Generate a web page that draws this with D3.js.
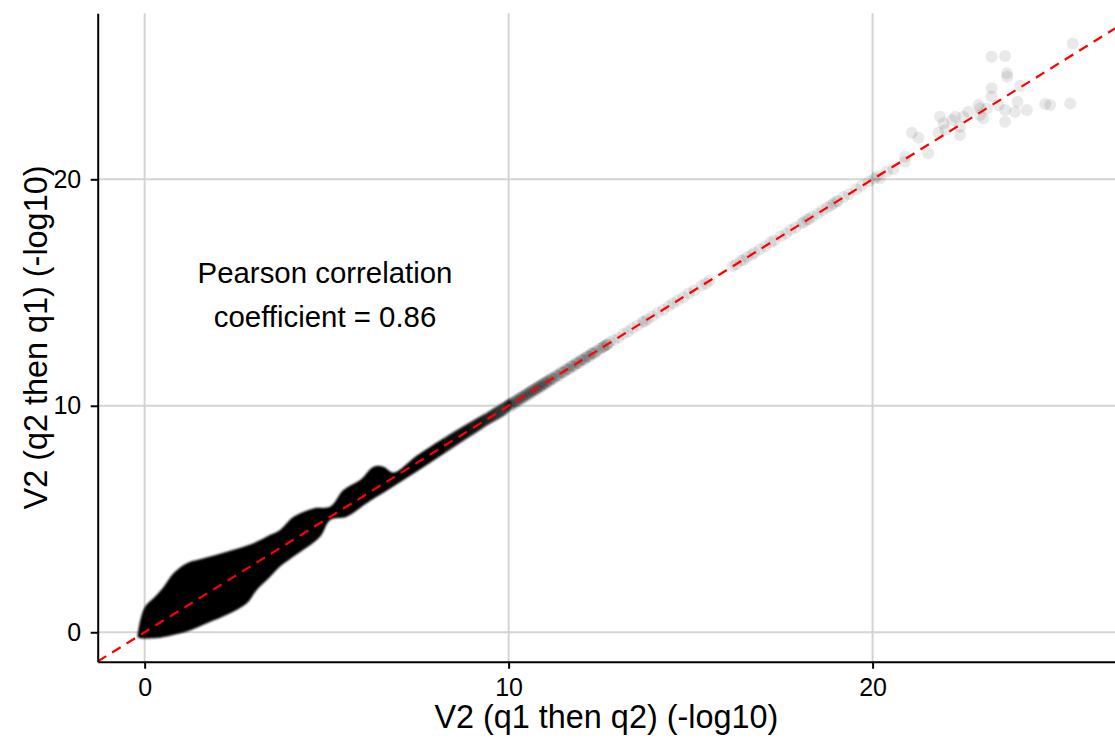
<!DOCTYPE html>
<html>
<head>
<meta charset="utf-8">
<script src="https://cdn.jsdelivr.net/npm/d3@7"></script>
<style>
  html, body { margin: 0; padding: 0; background: #fff; }
  svg { display: block; font-family: "Liberation Sans", Arial, Helvetica, sans-serif; }
</style>
</head>
<body>
<svg id="chart" width="1115" height="745"></svg>
<script>
// ---- data ----
const xTicks = [0, 10, 20];
const yTicks = [0, 10, 20];
const xTitle = "V2 (q1 then q2) (-log10)";
const yTitle = "V2 (q2 then q1) (-log10)";
const annotation = ["Pearson correlation", "coefficient = 0.86"];
const correlation = 0.86;

// envelope of the saturated dense cloud (x, y) upper and lower edges
const cloudUpper = [[-0.2,-0.2],[-0.12,0.54],[0.01,1.13],[0.24,1.5],[0.52,2.0],[0.79,2.6],[1.16,3.05],[1.62,3.27],
  [2.26,3.56],[2.99,3.93],[3.45,4.3],[3.72,4.52],[4.09,5.1],[4.64,5.47],[5.1,5.55],[5.46,6.28],[5.92,6.72],
  [6.29,7.31],[6.56,7.31],[6.84,7.05],[7.48,7.8],[8.5,8.85],[9.3,9.6],[10.05,10.25]];
const cloudLower = [[-0.2,-0.2],[-0.15,-0.25],[0.34,-0.25],[0.7,-0.15],[1.16,0.03],[1.71,0.4],[2.35,0.84],[2.81,1.28],
  [3.08,1.87],[3.45,2.45],[3.72,2.9],[4.09,3.34],[4.82,4.22],[5.1,4.96],[5.55,5.1],[6.1,5.7],[6.65,6.25],
  [7.48,7.1],[8.5,8.18],[9.3,9.02],[10.05,9.82]];

// individual points along the diagonal
const diagPoints = [
  [10.00,10.02],[10.04,10.03],[10.08,10.10],[10.12,10.11],[10.16,10.18],[10.20,10.19],[10.24,10.25],[10.28,10.27],
  [10.32,10.34],[10.36,10.35],[10.40,10.41],[10.44,10.43],[10.48,10.50],[10.52,10.51],[10.56,10.57],[10.60,10.59],
  [10.64,10.66],[10.68,10.67],[10.72,10.73],[10.76,10.75],[10.80,10.82],[10.84,10.83],[10.88,10.89],[10.92,10.91],
  [10.96,10.98],[11.00,10.99],[11.05,11.06],[11.10,11.09],[11.15,11.17],[11.20,11.19],
  [10.02,10.10],[10.06,9.96],[10.10,10.16],[10.14,10.04],[10.18,10.24],[10.22,10.12],[10.26,10.32],[10.30,10.22],
  [10.34,10.40],[10.38,10.30],[10.42,10.48],[10.46,10.38],[10.50,10.56],[10.54,10.46],[10.58,10.64],[10.62,10.54],
  [10.66,10.72],[10.70,10.62],[10.74,10.80],[10.78,10.70],[10.82,10.88],[10.86,10.78],[10.90,10.96],[10.94,10.86],
  [10.98,11.04],[11.03,10.96],[11.08,11.14],[11.13,11.06],[11.18,11.24],[11.24,11.18],[11.31,11.36],[11.38,11.32],
  [11.45,11.50],[11.52,11.46],[11.59,11.64],[11.66,11.60],[11.73,11.78],[11.80,11.74],[11.87,11.92],[11.94,11.88],
  [12.01,12.06],[12.08,12.02],[12.15,12.20],[12.22,12.16],[12.29,12.34],[12.36,12.30],
  [11.27,11.28],[11.34,11.33],[11.41,11.43],[11.48,11.47],[11.55,11.56],[11.62,11.61],[11.69,11.71],[11.76,11.75],
  [11.83,11.84],[11.90,11.89],[11.97,11.99],[12.04,12.03],[12.11,12.12],[12.18,12.17],[12.25,12.27],[12.32,12.31],
  [12.39,12.40],[12.44,12.43],[12.50,12.52],[12.56,12.55],[12.60,12.58],[12.62,12.63],[12.66,12.67],[12.70,12.69],
  [12.72,12.71],[12.78,12.80],
  [12.90,12.91],[13.02,13.00],[13.15,13.17],[13.28,13.27],[13.40,13.42],[13.55,13.54],[13.68,13.70],[13.74,13.73],
  [13.82,13.83],[13.95,13.94],[14.10,14.12],[14.25,14.24],[14.40,14.41],[14.52,14.53],
  [14.65,14.66],[14.80,14.79],[14.95,14.97],[15.10,15.09],[15.30,15.31],[15.42,15.40],[15.52,15.53],
  [16.15,16.16],[16.25,16.24],[16.38,16.40],[16.45,16.44],[16.55,16.57],[16.68,16.67],[16.75,16.76],[16.90,16.91],
  [17.05,17.04],[17.20,17.22],[17.30,17.29],[17.48,17.49],[17.62,17.61],[17.75,17.77],[17.88,17.87],
  [18.05,18.06],[18.12,18.11],[18.20,18.22],[18.26,18.25],[18.35,18.36],[18.50,18.49],[18.62,18.63],[18.75,18.76],
  [18.85,18.84],[18.92,18.93],[19.00,19.01],[19.05,19.04],
  [19.20,19.22],[19.35,19.34],[19.55,19.56],[19.70,19.71],[19.90,19.91],[20.05,20.04],[20.12,20.13]
];
// scattered points at the top right
const outerPoints = [
  [20.2,20.04],[20.39,20.34],[20.57,20.44],[20.89,21.0],[20.89,20.78],[21.08,22.06],[21.26,21.84],[21.53,21.15],
  [21.85,22.76],[21.81,22.06],[21.95,22.47],[22.0,22.18],[22.18,22.62],[22.27,22.76],[22.4,21.96],[22.4,22.32],
  [22.49,22.76],[22.63,22.98],[22.91,23.28],[22.95,22.84],[23.04,22.69],[22.95,23.13],[23.14,23.13],[23.27,24.02],
  [23.27,25.41],[23.64,25.44],[23.27,23.66],[23.46,23.28],[23.64,23.06],[23.69,24.68],[23.7,24.53],[23.64,22.54],
  [23.91,22.98],[24.05,24.13],[23.98,23.43],[24.24,23.06],[24.74,23.32],[24.88,23.28],[25.43,23.35],[25.5,26.0]
];

// ---- layout ----
const plot = { left: 97.7, right: 1115, top: 13.3, bottom: 661.7 };
const x = d3.scaleLinear().domain([-1.29, 26.66]).range([plot.left, plot.right]);
const y = d3.scaleLinear().domain([-1.30, 27.33]).range([plot.bottom, plot.top]);

const svg = d3.select("#chart");
const defs = svg.append("defs");
defs.append("clipPath").attr("id", "clip").append("rect")
  .attr("x", plot.left).attr("y", plot.top)
  .attr("width", plot.right - plot.left).attr("height", plot.bottom - plot.top);
defs.append("filter").attr("id", "soft").attr("x", "-5%").attr("y", "-5%").attr("width", "110%").attr("height", "110%")
  .append("feGaussianBlur").attr("stdDeviation", 1.3);
const grad = defs.append("linearGradient").attr("id", "fade")
  .attr("gradientUnits", "userSpaceOnUse")
  .attr("x1", x(7.8)).attr("x2", x(10.05)).attr("y1", 0).attr("y2", 0);
grad.append("stop").attr("offset", 0).attr("stop-color", "#000");
grad.append("stop").attr("offset", 0.6).attr("stop-color", "#151515");
grad.append("stop").attr("offset", 1).attr("stop-color", "#444");

// grid
const grid = svg.append("g");
grid.selectAll("line.gx").data(xTicks).join("line")
  .attr("x1", d => x(d)).attr("x2", d => x(d))
  .attr("y1", plot.top).attr("y2", plot.bottom)
  .attr("stroke", "#d4d4d4").attr("stroke-width", 2);
grid.selectAll("line.gy").data(yTicks).join("line")
  .attr("x1", plot.left).attr("x2", plot.right)
  .attr("y1", d => y(d)).attr("y2", d => y(d))
  .attr("stroke", "#d4d4d4").attr("stroke-width", 2);

const g = svg.append("g").attr("clip-path", "url(#clip)");

// dense cloud
const cloudPoly = cloudUpper.concat(cloudLower.slice().reverse());
g.append("path")
  .attr("d", d3.line().x(d => x(d[0])).y(d => y(d[1])).curve(d3.curveCatmullRomClosed.alpha(0.5))(cloudPoly))
  .attr("fill", "url(#fade)")
  .attr("filter", "url(#soft)");

// individual points
g.selectAll("circle.p").data(diagPoints.concat(outerPoints)).join("circle")
  .attr("cx", d => x(d[0])).attr("cy", d => y(d[1])).attr("r", 6)
  .attr("fill", "#000").attr("fill-opacity", 0.085);

// identity line
const lineDomain = x.domain();
g.append("line")
  .attr("x1", x(lineDomain[0])).attr("y1", y(lineDomain[0]))
  .attr("x2", x(lineDomain[1])).attr("y2", y(lineDomain[1]))
  .attr("stroke", "#ff0000").attr("stroke-width", 2.2).attr("stroke-dasharray", "10,7");

// axes
const xAxis = svg.append("g").attr("transform", `translate(0,${plot.bottom})`)
  .call(d3.axisBottom(x).tickValues(xTicks).tickFormat(d3.format("d")).tickSize(7).tickSizeOuter(0).tickPadding(9.5));
const yAxis = svg.append("g").attr("transform", `translate(${plot.left},0)`)
  .call(d3.axisLeft(y).tickValues(yTicks).tickFormat(d3.format("d")).tickSize(7).tickSizeOuter(0).tickPadding(9.5));
[xAxis, yAxis].forEach(a => {
  a.select(".domain").attr("stroke", "#000").attr("stroke-width", 2);
  a.selectAll(".tick line").attr("stroke", "#000").attr("stroke-width", 2);
  a.selectAll(".tick text").attr("fill", "#000").style("font-size", "25px")
    .style("font-family", '"Liberation Sans", Arial, sans-serif');
});

// titles
svg.append("text").attr("x", (plot.left + plot.right) / 2).attr("y", 728)
  .attr("text-anchor", "middle").style("font-size", "32.4px").attr("fill", "#000").text(xTitle);
svg.append("text").attr("transform", `translate(47,${(plot.top + plot.bottom) / 2}) rotate(-90)`)
  .attr("text-anchor", "middle").style("font-size", "32.4px").attr("fill", "#000").text(yTitle);

// annotation
svg.append("text").attr("x", 325).attr("y", 283).attr("text-anchor", "middle")
  .style("font-size", "29.4px").attr("fill", "#000").text(annotation[0]);
svg.append("text").attr("x", 325).attr("y", 327).attr("text-anchor", "middle")
  .style("font-size", "29.4px").attr("fill", "#000").text(annotation[1]);
</script>
</body>
</html>
